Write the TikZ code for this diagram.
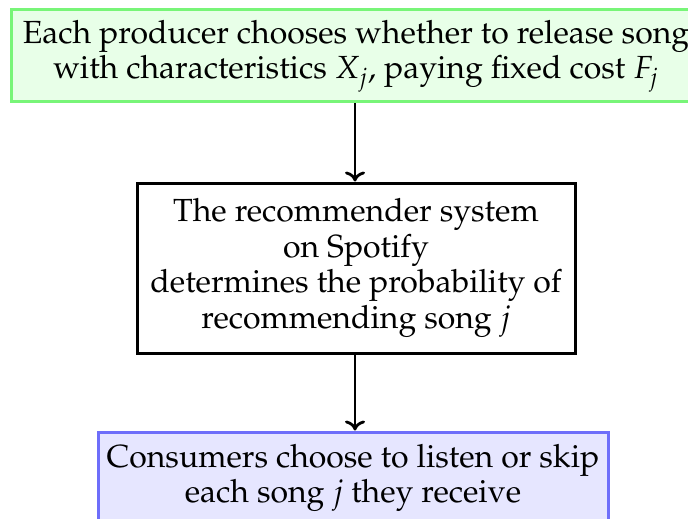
\documentclass[tikz,border=0pt]{standalone}
\usepackage[T1]{fontenc}
\usepackage{mathpazo}
\usetikzlibrary{arrows.meta}
\definecolor{grnborder}{RGB}{120,245,120}
\definecolor{grnfill}{RGB}{232,255,232}
\definecolor{bluborder}{RGB}{110,110,250}
\definecolor{blufill}{RGB}{230,230,255}
\tikzset{
  stagebox/.style={draw, line width=1.5pt, align=center, inner sep=0pt, font=\fontsize{16}{17.75}\selectfont},
  flowarrow/.style={-{To[length=5pt,width=10pt,line width=1.4pt]}, line width=1.4pt}
}
\begin{document}
\begin{tikzpicture}[x=0.5pt,y=-0.5pt]
\useasboundingbox (0,0) rectangle (688,518);
\begin{scope}
\clip (0,0) rectangle (688,518);
\node[stagebox, draw=grnborder, fill=grnfill, minimum width=345pt, minimum height=46pt] (prod) at (356,56)
  {Each producer chooses whether to release song\\ with characteristics $X_j$, paying fixed cost $F_j$};
\node[stagebox, draw=black, fill=white, minimum width=219pt, minimum height=85pt] (rec) at (356,268)
  {The recommender system\\ on Spotify\\ determines the probability of\\ recommending song $j$};
\node[stagebox, draw=bluborder, fill=blufill, minimum width=255pt, minimum height=46pt] (cons) at (353,478)
  {Consumers choose to listen or skip\\ each song $j$ they receive};
\draw[flowarrow] (prod.south -| 355,0) -- (rec.north -| 355,0);
\draw[flowarrow] (rec.south -| 355,0) -- (cons.north -| 355,0);
\end{scope}
\end{tikzpicture}
\end{document}
